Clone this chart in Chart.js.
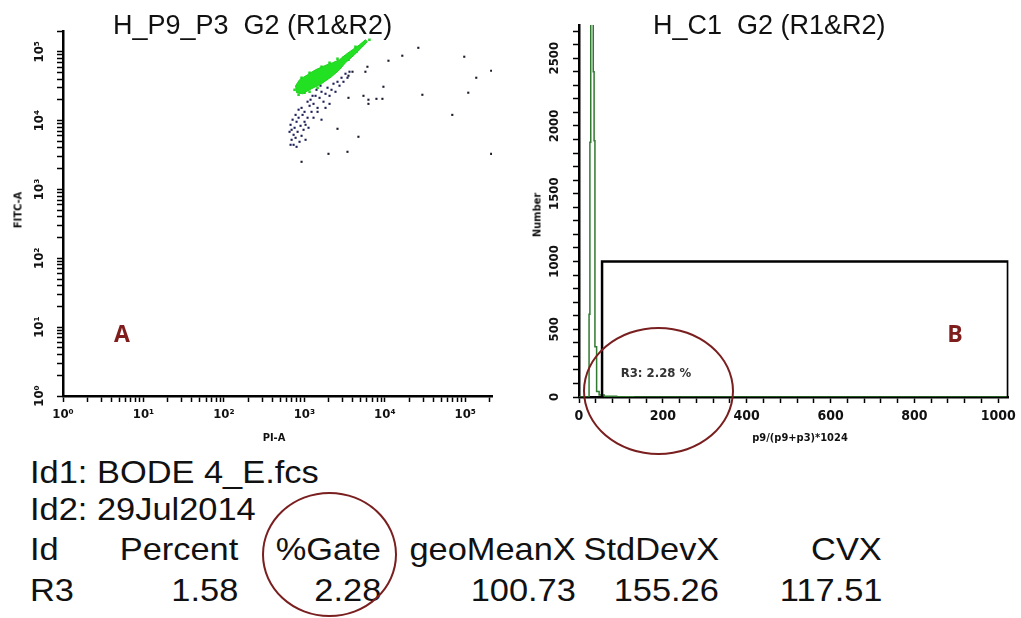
<!DOCTYPE html>
<html>
<head>
<meta charset="utf-8">
<title>H_P9_P3 / H_C1 G2 (R1&amp;R2)</title>
<script src="https://cdn.jsdelivr.net/npm/chart.js@4.4.1/dist/chart.umd.min.js"></script>
<style>
  html, body { margin: 0; padding: 0; background: #fff; }
  body { position: relative; width: 1021px; height: 618px; overflow: hidden;
         font-family: 'Liberation Sans', Arial, sans-serif; color: #111; }
  .box { position: absolute; }
  .t { position: absolute; white-space: nowrap; line-height: 1; }
  .c { transform: translate(-50%, -50%); }
  .rot { transform: translate(-50%, -50%) rotate(-90deg); }
  .small { font: bold 11px 'Liberation Sans Narrow', 'DejaVu Sans Condensed', sans-serif; }
  .ttl { font-size: 27px; }
  .letter { font: bold 23px 'Open Sans', sans-serif; color: #7f1d1d; }
  .ring { position: absolute; border: 2px solid #7a1f1f; border-radius: 50%; box-sizing: border-box; }
  .row { font-size: 32px; }
  .l { transform: scaleX(1.075); transform-origin: left center; }
  .r { transform: scaleX(1.075); transform-origin: right center; text-align: right; }
</style>
</head>
<body>
<div class="box" style="left:0;top:0;width:510px;height:445px"><canvas id="dotPlot" width="510" height="445"></canvas></div>
<div class="box" style="left:520px;top:0;width:501px;height:445px"><canvas id="histPlot" width="501" height="445"></canvas></div>

<div class="t ttl" style="left:113px;top:12px">H_P9_P3&nbsp; G2 (R1&amp;R2)</div>
<div class="t ttl" style="left:653px;top:12px">H_C1&nbsp; G2 (R1&amp;R2)</div>
<div class="t small rot" style="left:18px;top:210px">FITC-A</div>
<div class="t small c" style="left:274px;top:437px">PI-A</div>
<div class="t small rot" style="left:537px;top:215px">Number</div>
<div class="t small c" style="left:800px;top:437px">p9/(p9+p3)*1024</div>
<div class="t letter c" style="left:122px;top:333px">A</div>
<div class="t letter c" style="left:955px;top:333px">B</div>
<div class="t c" style="left:656px;top:372px;font:bold 13px 'Liberation Sans Narrow','DejaVu Sans Condensed',sans-serif;color:#333">R3: 2.28 %</div>
<div class="ring" style="left:583px;top:327px;width:151px;height:128px"></div>

<div class="t row l" style="left:30px;top:456px">Id1: BODE 4_E.fcs</div>
<div class="t row l" style="left:30px;top:493px">Id2: 29Jul2014</div>
<div class="t row l" style="left:30px;top:533px">Id</div>
<div class="t row r" style="right:783px;top:533px">Percent</div>
<div class="t row r" style="right:640px;top:533px">%Gate</div>
<div class="t row r" style="right:445px;top:533px">geoMeanX</div>
<div class="t row r" style="right:302px;top:533px">StdDevX</div>
<div class="t row r" style="right:139px;top:533px">CVX</div>
<div class="t row l" style="left:30px;top:574px">R3</div>
<div class="t row r" style="right:783px;top:574px">1.58</div>
<div class="t row r" style="right:640px;top:574px">2.28</div>
<div class="t row r" style="right:445px;top:574px">100.73</div>
<div class="t row r" style="right:302px;top:574px">155.26</div>
<div class="t row r" style="right:139px;top:574px">117.51</div>
<div class="ring" style="left:262px;top:492px;width:135px;height:125px"></div>

<script>
// gated population (green), outline of the dense cloud, PI-A vs FITC-A
const blobX = [800, 778, 871, 1096, 1377, 1782, 2240, 2735, 3245, 3965, 4840, 5740, 6080, 5130, 4200, 3245, 2735, 2175, 1635, 1228, 950, 800];
const blobY = [25400, 32000, 39200, 46300, 54700, 62600, 69200, 76500, 90400, 107000, 126000, 149000, 140000, 114000, 90400, 69200, 54700, 43300, 34300, 29000, 24500, 25400];
// green events on the ragged edge of the cloud
const greenX = [756, 848, 1005, 1161, 1459, 923, 1161, 1634, 2056, 2582, 3063, 3535, 3745, 4445, 5130, 5585, 6440, 4315];
const greenY = [28000, 23700, 25400, 26200, 30000, 41900, 49500, 60500, 69200, 79100, 81800, 76500, 90400, 100000, 122000, 135000, 149000, 118000];
// other events (dark dots) under the cloud
const dotX = [674, 694, 714, 735, 756, 694, 735, 778, 800, 824, 848, 871, 897, 923, 950, 977, 1005, 1035, 778, 848, 923, 1005, 1096, 1161, 1127, 1228,
              1194, 1300, 1377, 1459, 1545, 1634, 1730, 1832, 1941, 2056, 2175, 2302, 2438, 2582, 2735, 2897, 3063, 3245, 3436, 3639,
              1300, 1459, 1634, 1832, 2056, 1096, 1265, 1416, 1588, 1035, 655, 674, 800];
const dotY = [8690, 7350, 10300, 6220, 7860, 5260, 4450, 5620, 9610, 6870, 11000, 4920, 8400, 6010, 12100, 7350, 9610, 5260, 12100, 14400, 15300, 13400, 11000, 16400, 7860, 13400,
              20100, 17500, 22900, 15300, 21400, 26200, 18800, 24500, 30000, 22900, 28000, 34300, 26200, 36600, 32100, 41900, 36600, 47900, 41900, 51200,
              11000, 13400, 10300, 15300, 17500, 18800, 22900, 28000, 32100, 8690, 6870, 4450, 4160];
// scattered events further out
const farX = [11100, 16500, 26100, 97200, 210000, 137000, 6080, 5740, 3965, 3535, 9610, 5430, 6260, 6260, 7870, 9340, 3535, 29300, 109000, 69000, 2582, 4700, 3436, 1995, 923, 210000];
const farY = [74000, 87500, 114000, 84600, 53000, 41900, 60500, 51200, 51200, 44800, 31000, 22900, 20100, 17500, 20700, 20700, 21400, 23700, 25400, 12100, 7600, 5820, 3520, 3290, 2520, 3290];
// events piled above the top of the FITC-A range
const offX = [33800, 37900];
const offY = [270000, 270000];

// histogram of p9/(p9+p3)*1024, left bin edges and counts
const histX = [0, 22, 24, 26, 28, 31, 34, 36, 38, 42, 48, 60, 90, 130, 1023];
const histY = [0, 0, 610, 1880, 3800, 4300, 2400, 1890, 370, 40, 15, 6, 2, 0, 0];
// R3 gate marker
const gateX = [55, 55, 1023, 1023];
const gateY = [0, 1000, 1000, 0];

const sup = ['\u2070', '\u00b9', '\u00b2', '\u00b3', '\u2074', '\u2075'];
const tickFont = "'Liberation Sans Narrow', 'DejaVu Sans Condensed', sans-serif";

const pts = (xs, ys) => xs.map((x, i) => ({ x: x, y: ys[i] }));

const logTicks = (max) => {
    const t = [];
    for (let e = 0; e <= 5; e++) {
        for (let k = 1; k <= 9; k++) {
            const v = k * Math.pow(10, e);
            if (v <= max) t.push({ value: v, major: k === 1 });
        }
    }
    return t;
};
const logLabel = (v) => {
    const e = Math.round(Math.log10(v));
    return Math.abs(v - Math.pow(10, e)) < 1e-6 ? '10' + sup[e] : '';
};
const stepTicks = (step, last) => {
    const t = [];
    for (let v = 0; v <= last; v += step) t.push({ value: v });
    return t;
};

// y tick labels are turned on their side, so they are drawn here
const sideLabels = (x, font, label) => ({
    id: 'sideLabels',
    afterDraw(chart) {
        const s = chart.scales.y;
        const ctx = chart.ctx;
        ctx.save();
        ctx.font = font;
        ctx.fillStyle = '#111';
        ctx.textAlign = 'center';
        ctx.textBaseline = 'middle';
        s.ticks.forEach(t => {
            const lab = label(t.value);
            if (!lab) return;
            ctx.save();
            ctx.translate(x, s.getPixelForValue(t.value));
            ctx.rotate(-Math.PI / 2);
            ctx.fillText(lab, 0, 0);
            ctx.restore();
        });
        ctx.restore();
    }
});

const axisGrid = {
    drawOnChartArea: false,
    tickLength: 6,
    tickColor: '#000',
    tickWidth: 1.5
};
const axisBorder = { color: '#000', width: 2.5 };

new Chart(document.getElementById('dotPlot'), {
    type: 'scatter',
    data: {
        datasets: [
            {
                data: pts(blobX, blobY),
                showLine: true,
                fill: 'shape',
                backgroundColor: '#22e022',
                borderColor: '#1fd01f',
                borderWidth: 1,
                pointRadius: 0
            },
            {
                data: pts(greenX, greenY),
                backgroundColor: '#22d822',
                borderWidth: 0,
                pointStyle: 'rect',
                pointRadius: 1.8
            },
            {
                data: pts(dotX, dotY),
                backgroundColor: '#1c2058',
                borderWidth: 0,
                pointStyle: 'rect',
                pointRadius: 1.5
            },
            {
                data: pts(farX, farY),
                backgroundColor: '#1c1c2c',
                borderWidth: 0,
                pointStyle: 'rect',
                pointRadius: 1.5
            },
            {
                data: pts(offX, offY),
                backgroundColor: '#1c1c2c',
                borderWidth: 0,
                pointStyle: 'rect',
                pointRadius: 1.5,
                clip: false
            }
        ]
    },
    options: {
        responsive: false,
        animation: false,
        layout: { autoPadding: false, padding: { top: 31, right: 18, left: 0, bottom: 0 } },
        plugins: { legend: { display: false }, tooltip: { enabled: false } },
        scales: {
            x: {
                type: 'logarithmic',
                min: 1,
                max: 215000,
                afterBuildTicks: (s) => { s.ticks = logTicks(215000); },
                afterFit: (s) => { s.height = 49; },
                ticks: {
                    autoSkip: false, maxRotation: 0, minRotation: 0, padding: 5,
                    color: '#111', font: { family: tickFont, size: 13, weight: 'bold' },
                    callback: (v) => logLabel(v)
                },
                grid: axisGrid,
                border: axisBorder
            },
            y: {
                type: 'logarithmic',
                min: 1,
                max: 200000,
                afterBuildTicks: (s) => { s.ticks = logTicks(200000); },
                afterFit: (s) => { s.width = 63; },
                ticks: { display: false },
                grid: axisGrid,
                border: axisBorder
            }
        }
    },
    plugins: [sideLabels(40, 'bold 13px ' + tickFont, logLabel)]
});

new Chart(document.getElementById('histPlot'), {
    type: 'scatter',
    data: {
        datasets: [
            {
                data: pts(gateX, gateY),
                showLine: true,
                borderColor: '#000',
                borderWidth: 2.5,
                pointRadius: 0,
                fill: false
            },
            {
                data: pts(histX, histY),
                showLine: true,
                stepped: 'before',
                borderColor: '#2f7a2f',
                borderWidth: 1.5,
                pointRadius: 0,
                fill: false
            }
        ]
    },
    options: {
        responsive: false,
        animation: false,
        layout: { autoPadding: false, padding: { top: 25, right: 7, left: 0, bottom: 0 } },
        plugins: { legend: { display: false }, tooltip: { enabled: false } },
        scales: {
            x: {
                type: 'linear',
                min: 0,
                max: 1024,
                afterBuildTicks: (s) => { s.ticks = stepTicks(40, 1000); },
                afterFit: (s) => { s.height = 48; },
                ticks: {
                    autoSkip: false, maxRotation: 0, minRotation: 0, padding: 5,
                    color: '#111', font: { family: tickFont, size: 14, weight: 'bold' },
                    callback: (v) => (v % 200 === 0 ? String(v) : '')
                },
                grid: axisGrid,
                border: axisBorder
            },
            y: {
                type: 'linear',
                min: 0,
                max: 2745,
                afterBuildTicks: (s) => { s.ticks = stepTicks(100, 2700); },
                afterFit: (s) => { s.width = 59; },
                ticks: { display: false },
                grid: axisGrid,
                border: axisBorder
            }
        }
    },
    plugins: [sideLabels(35, 'bold 13px ' + tickFont, (v) => (v % 500 === 0 ? String(v) : ''))]
});
</script>
</body>
</html>
